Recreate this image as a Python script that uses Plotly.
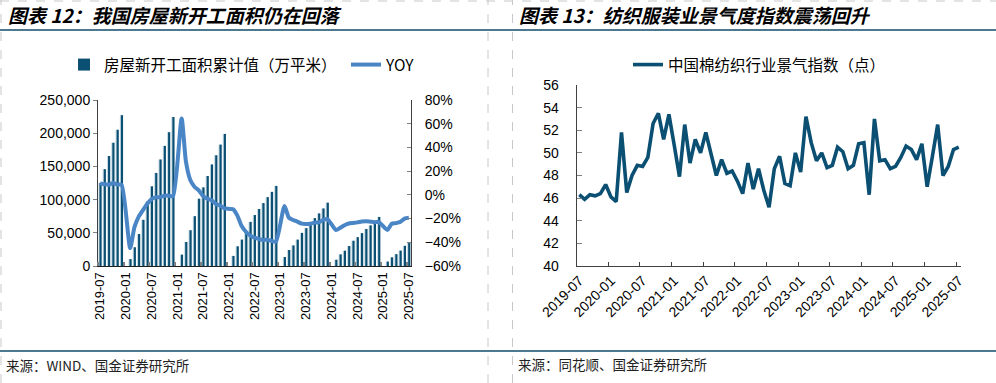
import plotly.graph_objects as go
import pandas as pd

W, H = 996, 383

# ---------------- data ----------------
months = [p.strftime("%Y-%m") for p in pd.period_range("2019-07", "2025-07", freq="M")]
tick_labels = ["2019-07", "2020-01", "2020-07", "2021-01", "2021-07", "2022-01", "2022-07",
               "2023-01", "2023-07", "2024-01", "2024-07", "2025-01", "2025-07"]

# 房屋新开工面积累计值（万平米）
starts_cum = [125140, 145800, 165600, 185600, 205200, 227154,
              None, 10370, 28203, 48185, 69533, 97536, 119961, 140186, 160414, 180923, 201466, 224433,
              None, 17093, 36163, 53886, 75007, 101334, 118423, 135502, 152944, 166736, 182820, 198895,
              None, 15180, 29638, 39739, 51628, 66423, 76681, 85810, 94767, 103722, 111632, 120587,
              None, 13567, 24121, 31006, 39723, 49880, 56969, 63891, 72123, 79177, 86656, 95376,
              None, 9429, 17490, 22988, 30090, 38023, 43476, 49511, 55707, 61227, 66656, 73893,
              None, 6638, 12996, 17836, 23184, 30364, 35206]
# YOY (%)
starts_yoy = [9.5, 8.9, 8.6, 10.0, 8.6, 8.5,
              None, -44.9, -27.2, -18.4, -12.8, -7.6, -3.6, -2.0, -1.9, -0.7, -0.7, -1.2,
              None, 64.3, 28.2, 12.8, 6.9, 3.8, -0.9, -3.2, -4.5, -7.7, -9.1, -11.4,
              None, -12.2, -17.5, -26.3, -31.1, -34.4, -36.1, -37.2, -38.0, -37.8, -38.9, -39.4,
              None, -9.4, -19.2, -21.2, -22.6, -24.3, -24.5, -24.4, -23.4, -23.2, -21.2, -20.4,
              None, -29.7, -27.8, -25.6, -24.2, -23.7, -23.2, -22.5, -22.2, -22.6, -23.0, -23.0,
              None, -29.6, -24.4, -23.8, -22.8, -20.0, -19.4]
# 中国棉纺织行业景气指数（点）
cotton_index = [46.3, 45.9, 46.3, 46.2, 46.4, 47.2, 46.1, 45.7, 51.8, 46.5, 48.0, 48.9,
                48.8, 49.6, 52.6, 53.5, 51.2, 53.4, 50.7, 47.9, 52.5, 49.1, 51.2, 50.0,
                51.8, 50.0, 48.0, 49.4, 48.2, 48.4, 47.5, 46.4, 49.1, 46.8, 48.6, 46.7,
                45.2, 48.6, 49.7, 47.3, 47.1, 50.0, 48.3, 53.2, 50.9, 49.3, 50.0, 48.7,
                48.9, 50.5, 50.1, 48.6, 48.9, 50.8, 50.9, 46.3, 53.0, 49.3, 49.4, 48.6,
                48.8, 49.6, 50.6, 50.3, 49.4, 50.8, 47.0, 49.7, 52.5, 48.0, 48.8, 50.3, 50.5]

xi = list(range(len(months)))
tick_pos = [months.index(t) for t in tick_labels]
bound_pos = [p - 0.5 for p in tick_pos]

DARK = "#0b4f73"
LIGHT = "#c3d8e3"
YOY_C = "#4a86c6"
FONT = "Liberation Sans, Arial, Noto Sans CJK SC, sans-serif"
CJK = "Noto Sans CJK SC, sans-serif"

def px_x(v):
    return v / W

def px_y(v):
    return (H - v) / H

fig = go.Figure()
fig.add_trace(go.Bar(x=xi, y=starts_cum, width=0.74, offset=-0.40, marker_color=LIGHT,
                     marker_line_width=0, showlegend=False, hoverinfo="skip",
                     xaxis="x", yaxis="y"))
fig.add_trace(go.Bar(x=xi, y=starts_cum, width=0.5, offset=-0.16, marker_color=DARK,
                     marker_line_width=0, name="房屋新开工面积累计值（万平米）",
                     xaxis="x", yaxis="y", legend="legend"))
fig.add_trace(go.Scatter(x=xi, y=starts_yoy, mode="lines", connectgaps=True,
                         line=dict(color=YOY_C, width=4, shape="spline", smoothing=0.6),
                         name="YOY", xaxis="x", yaxis="y2", legend="legend3"))
fig.add_trace(go.Scatter(x=xi, y=cotton_index, mode="lines",
                         line=dict(color=DARK, width=3.6),
                         name="中国棉纺织行业景气指数（点）", xaxis="x2", yaxis="y3",
                         legend="legend2"))

ybot = px_y(266)
axis_common = dict(showgrid=False, zeroline=False, showline=True, linecolor="#404040",
                   linewidth=1, automargin=False,
                   tickfont=dict(family=FONT, size=14, color="#000"))
leg_font = dict(family=CJK, size=15.5, color="#000")

fig.update_layout(
    width=W, height=H, margin=dict(l=0, r=0, t=0, b=0, autoexpand=False),
    paper_bgcolor="white", plot_bgcolor="white", barmode="overlay",
    xaxis=dict(domain=[px_x(98), px_x(411)], anchor="y", range=[-0.5, 72.5],
               tickmode="array", tickvals=tick_pos, ticktext=tick_labels, tickangle=-90,
               ticks="", showgrid=False, zeroline=False, showline=True, linecolor="#202020",
               linewidth=1, automargin=False, tickfont=dict(family=FONT, size=13, color="#000"),
               minor=dict(tickmode="array", tickvals=bound_pos, ticks="inside", ticklen=4,
                          tickwidth=2, tickcolor="#808080")),
    yaxis=dict(domain=[ybot, px_y(100)], anchor="x", range=[0, 250000], dtick=50000,
               tickformat=",", ticks="outside", ticklen=4, tickcolor="#808080", **axis_common),
    yaxis2=dict(overlaying="y", anchor="x", side="right", range=[-60, 80], dtick=20,
                ticksuffix="%", ticks="inside", ticklen=4, tickcolor="#808080",
                ticklabelstandoff=10, **axis_common),
    xaxis2=dict(domain=[px_x(576.7), px_x(961.4)], anchor="y3", range=[-0.5, 72.5],
                tickmode="array", tickvals=tick_pos, ticktext=tick_labels, tickangle=-45,
                ticks="", showgrid=False, zeroline=False, showline=True, linecolor="#404040",
                linewidth=1, automargin=False, tickfont=dict(family=FONT, size=14, color="#000"),
                minor=dict(tickmode="array", tickvals=bound_pos, ticks="inside", ticklen=4,
                           tickwidth=1, tickcolor="#404040")),
    yaxis3=dict(domain=[ybot, px_y(85)], anchor="x2", range=[40, 56], dtick=2,
                ticks="inside", ticklen=5, tickcolor="#808080", ticklabelstandoff=14,
                **axis_common),
    legend=dict(orientation="h", x=px_x(64), y=px_y(65), xanchor="left", yanchor="middle",
                font=leg_font, bgcolor="rgba(0,0,0,0)", itemwidth=30),
    legend3=dict(orientation="h", x=px_x(346), y=px_y(65), xanchor="left", yanchor="middle",
                 font=leg_font, bgcolor="rgba(0,0,0,0)", itemwidth=30),
    legend2=dict(orientation="h", x=px_x(628), y=px_y(65), xanchor="left", yanchor="middle",
                 font=leg_font, bgcolor="rgba(0,0,0,0)"),
)

# titles and sources
title_font = dict(family=CJK, size=19, color="#000", weight="bold", style="italic")
fig.add_annotation(text="图表 12：我国房屋新开工面积仍在回落", x=px_x(6), y=px_y(15),
                   xref="paper", yref="paper", xanchor="left", yanchor="middle",
                   showarrow=False, font=title_font)
fig.add_annotation(text="图表 13：纺织服装业景气度指数震荡回升", x=px_x(517), y=px_y(15),
                   xref="paper", yref="paper", xanchor="left", yanchor="middle",
                   showarrow=False, font=title_font)
src_font = dict(family=CJK, size=13.5, color="#222")
fig.add_annotation(text="来源：WIND、国金证券研究所", x=px_x(4), y=px_y(365),
                   xref="paper", yref="paper", xanchor="left", yanchor="middle",
                   showarrow=False, font=src_font)
fig.add_annotation(text="来源：同花顺、国金证券研究所", x=px_x(516), y=px_y(364),
                   xref="paper", yref="paper", xanchor="left", yanchor="middle",
                   showarrow=False, font=src_font)

# separator lines and dashed frame
for yy in (30, 351):
    fig.add_shape(type="line", xref="paper", yref="paper", x0=0, x1=1,
                  y0=px_y(yy), y1=px_y(yy), line=dict(color="#104d6b", width=1.5))
for xx in (1, 488, 512.5):
    fig.add_shape(type="line", xref="paper", yref="paper", x0=px_x(xx), x1=px_x(xx),
                  y0=0, y1=1, line=dict(color="#c8c8c8", width=1, dash="dash"))
fig.add_shape(type="line", xref="paper", yref="paper", x0=0, x1=1, y0=px_y(1), y1=px_y(1),
              line=dict(color="#c8c8c8", width=1, dash="dash"))

fig.write_html("out.html", config={"displayModeBar": False},
               post_script="document.body.style.margin='0';document.body.style.padding='0';")
